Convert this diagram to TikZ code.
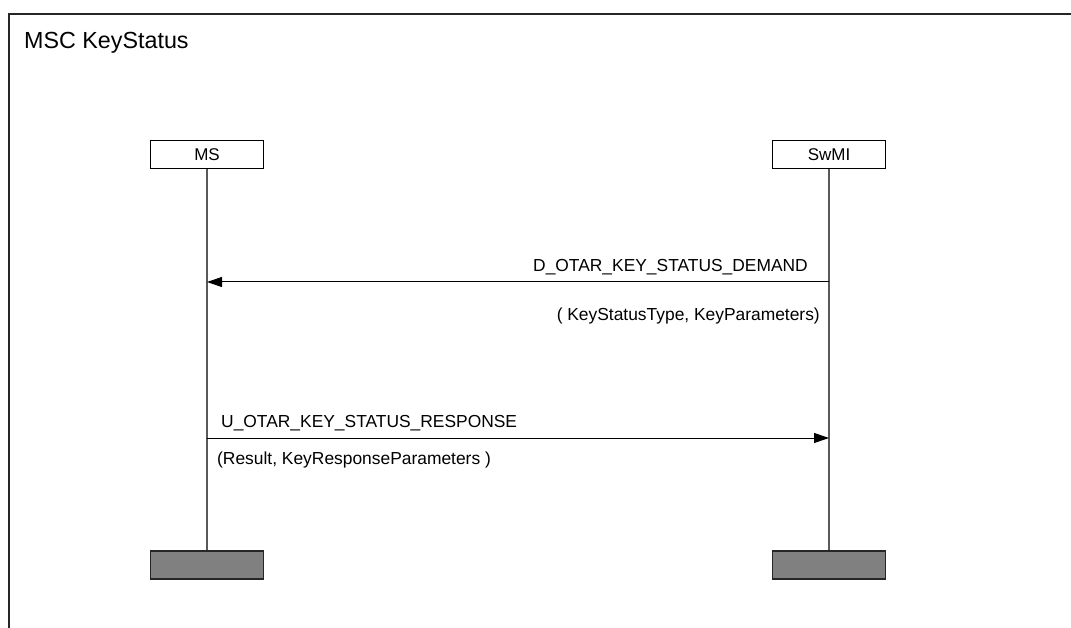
\documentclass[tikz,border=0pt]{standalone}
\usepackage{fontspec}
\setmainfont{Liberation Sans}
\usetikzlibrary{arrows.meta}
\begin{document}
\begin{tikzpicture}[x=1pt,y=-1pt,
  inst/.style={draw=black,line width=1pt,fill=white,minimum width=113pt,minimum height=28pt,inner sep=0pt,font=\fontsize{17}{19}\selectfont},
  endbox/.style={draw=black!85,line width=1.2pt,fill=black!50,minimum width=113pt,minimum height=28pt,inner sep=0pt},
  life/.style={draw=black!65,line width=1.2pt},
  msg/.style={draw=black,line width=1pt,-{Triangle[length=15pt,width=10pt]}},
  lbl/.style={font=\fontsize{17.4}{19}\selectfont,inner sep=0pt}]
\useasboundingbox (0,0) rectangle (1071,628);
\begin{scope}
\clip (0,0) rectangle (1071,628);
\draw[line width=1.3pt,draw=black!85] (9,660) -- (9,14) -- (1100,14);
\end{scope}
\node[anchor=base west,font=\fontsize{23.3}{26}\selectfont,inner sep=0pt] (title) at (24,49) {MSC KeyStatus};
\node[inst] (ms) at (207,155) {MS};
\node[inst] (swmi) at (829,155) {SwMI};
\node[endbox] (msend) at (207,565) {};
\node[endbox] (swend) at (829,565) {};
\draw[life] (ms.south) -- (msend.north);
\draw[life] (swmi.south) -- (swend.north);
\coordinate (d1) at (829,282);
\coordinate (d2) at (207,282);
\coordinate (u1) at (207,438);
\coordinate (u2) at (829,438);
\draw[msg] (d1) -- (d2);
\draw[msg] (u1) -- (u2);
\node[lbl,anchor=base east] (dl) at (808,272) {D\_OTAR\_KEY\_STATUS\_DEMAND};
\node[lbl,anchor=base east] (dp) at (820,320) {( KeyStatusType, KeyParameters)};
\node[lbl,anchor=base west] (ul) at (221,427) {U\_OTAR\_KEY\_STATUS\_RESPONSE};
\node[lbl,anchor=base west] (up) at (217,464) {(Result, KeyResponseParameters )};
\end{tikzpicture}
\end{document}
